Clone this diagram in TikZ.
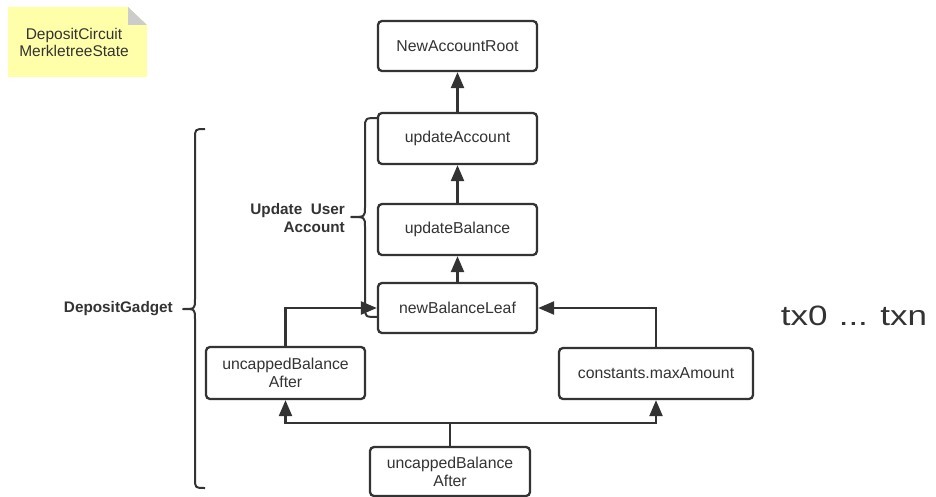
\documentclass[tikz,border=0pt]{standalone}
\usepackage{fontspec}
\setmainfont{Liberation Sans}
\usetikzlibrary{arrows.meta}
\definecolor{ink}{HTML}{333333}
\definecolor{notey}{HTML}{FFFFAA}
\definecolor{noteg}{HTML}{CCCCCC}
\tikzset{
  box/.style={draw=ink, line width=2.3pt, rounded corners=4pt, fill=white,
    text=ink, font=\fontsize{15.8}{18}\selectfont, align=center, inner sep=2pt},
  flow/.style={draw=ink, line width=2.3pt, -{Triangle[length=16pt,width=13pt]}},
  plain/.style={draw=ink, line width=2.3pt},
  lbl/.style={text=ink, font=\fontsize{15.3}{18}\selectfont\bfseries, inner sep=0pt},
  bracepath/.style={draw=ink, line width=2pt, line join=round}
}
\begin{document}
\begin{tikzpicture}[x=1pt,y=-1pt]
\useasboundingbox (0,0) rectangle (936,497);

% note
\fill[notey] (8,7) -- (128,7) -- (147,25) -- (147,77) -- (8,77) -- cycle;
\fill[noteg] (128,7) -- (147,25) -- (128,25) -- cycle;
\node[text=ink, font=\fontsize{15.5}{17}\selectfont, align=center, inner sep=0pt] (note) at (74,42) {DepositCircuit\\MerkletreeState};

% boxes
\node[box, minimum width=159pt, minimum height=50pt] (nar) at (457.5,46) {NewAccountRoot};
\node[box, minimum width=159pt, minimum height=51pt] (ua) at (457.5,138.5) {updateAccount};
\node[box, minimum width=159pt, minimum height=51pt] (ub) at (457.5,229.5) {updateBalance};
\node[box, minimum width=159pt, minimum height=50pt] (nbl) at (457.5,308) {newBalanceLeaf};
\node[box, minimum width=159pt, minimum height=52pt] (uba1) at (285.5,373) {uncappedBalance\\After};
\node[box, minimum width=194pt, minimum height=51pt] (cma) at (656,373.5) {constants.maxAmount};
\node[box, minimum width=160pt, minimum height=49pt] (uba2) at (450,471.5) {uncappedBalance\\After};

% connectors
\draw[flow] (ua.north) -- (nar.south);
\draw[flow] (ub.north) -- (ua.south);
\draw[flow] (nbl.north) -- (ub.south);
\draw[flow] (uba1.north) |- (nbl.west);
\draw[flow] (cma.north) |- (nbl.east);
\coordinate (j) at (450,423);
\draw[plain] (uba2.north) -- (j);
\draw[flow] (j) -| (uba1.south);
\draw[flow] (j) -| (cma.south);

% braces
\draw[bracepath] (378,118) .. controls (365,118) .. (365,128) -- (365,207)
  .. controls (365,217) .. (351,217) .. controls (365,217) .. (365,227) -- (365,307)
  .. controls (365,317) .. (378,317);
\draw[bracepath] (205,129) .. controls (195,129) .. (195,139) -- (195,299)
  .. controls (195,309) .. (183,309) .. controls (195,309) .. (195,319) -- (195,478)
  .. controls (195,488) .. (205,488);

% labels
\node[lbl, align=right, anchor=east] (uua) at (345,218) {Update\ \ User\\Account};
\node[lbl, anchor=east] (dg) at (173,309) {DepositGadget};
\node[text=ink, font=\fontsize{28}{32}\selectfont, inner sep=0pt] (tx) at (854,316) {\scalebox{1.25}[1]{tx0\hspace{9pt}...\hspace{10pt}txn}};
\end{tikzpicture}
\end{document}
